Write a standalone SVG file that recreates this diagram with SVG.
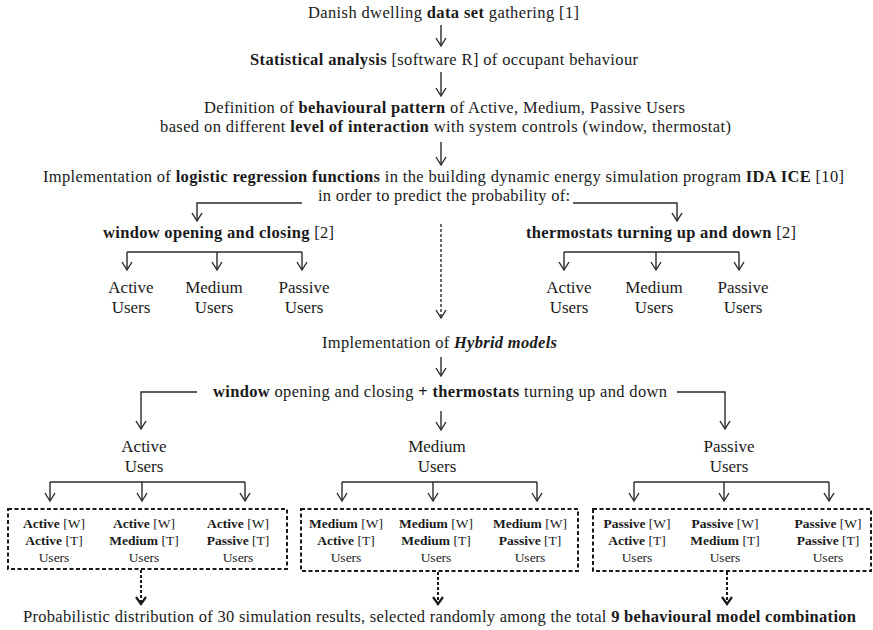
<svg xmlns="http://www.w3.org/2000/svg" width="873" height="630" viewBox="0 0 873 630" font-family="'Liberation Serif', 'Times New Roman', serif">
<defs>
<style>
text{font-family:"Liberation Serif","Times New Roman",serif;font-size:16.5px;fill:#1a1a1a}
.b{font-weight:bold}
.bi{font-weight:bold;font-style:italic}
.sm{font-size:13.5px}
.u{font-size:17px}
.c{text-anchor:middle}
.ln{fill:none;stroke:#2a2a2a;stroke-width:1.4}
.ar{fill:none;stroke:#2a2a2a;stroke-width:1.4;marker-end:url(#ah)}
.da{fill:none;stroke:#2a2a2a;stroke-width:1.4;stroke-dasharray:3 2;marker-end:url(#ah)}
.dk{fill:none;stroke:#1a1a1a;stroke-width:2;stroke-dasharray:3 2;marker-end:url(#ahb)}
.box{fill:none;stroke:#1a1a1a;stroke-width:2;stroke-dasharray:4 2.5}
</style>
<marker id="ah" markerUnits="userSpaceOnUse" viewBox="-10 -8 12 16" markerWidth="12" markerHeight="16" refX="0" refY="0" orient="auto" overflow="visible">
<path d="M-8,-5 L0,0 L-8,5" fill="none" stroke="#2a2a2a" stroke-width="1.4"/>
</marker>
<marker id="ahb" markerUnits="userSpaceOnUse" viewBox="-10 -8 12 16" markerWidth="12" markerHeight="16" refX="0" refY="0" orient="auto" overflow="visible">
<path d="M-7,-5 L0,0 L-7,5" fill="none" stroke="#1a1a1a" stroke-width="2.2"/>
</marker>
</defs>
<rect width="873" height="630" fill="#fff"/>

<g id="connectors">
<path class="ar" d="M441,25 V46"/>
<path class="ar" d="M441,72 V96"/>
<path class="ar" d="M441,142 V165"/>
<path class="ar" d="M302,203 H197 V221"/>
<path class="ar" d="M573,203 H677 V221"/>
<path class="da" d="M441,224 V318"/>
<path class="ln" d="M127,252 H302"/>
<path class="ar" d="M127,252 V270"/>
<path class="ar" d="M217,252 V270"/>
<path class="ar" d="M302,252 V270"/>
<path class="ln" d="M564,252 H739"/>
<path class="ar" d="M564,252 V270"/>
<path class="ar" d="M656,252 V270"/>
<path class="ar" d="M739,252 V270"/>
<path class="ar" d="M441,357 V376"/>
<path class="ar" d="M197,392 H141 V429"/>
<path class="ar" d="M441,411 V430"/>
<path class="ar" d="M677,392 H725 V429"/>
<path class="ln" d="M50,482 H245"/>
<path class="ar" d="M50,482 V501"/>
<path class="ar" d="M142,482 V501"/>
<path class="ar" d="M245,482 V501"/>
<path class="ln" d="M342,482 H537"/>
<path class="ar" d="M342,482 V501"/>
<path class="ar" d="M433,482 V501"/>
<path class="ar" d="M537,482 V501"/>
<path class="ln" d="M634,482 H829"/>
<path class="ar" d="M634,482 V501"/>
<path class="ar" d="M724,482 V501"/>
<path class="ar" d="M829,482 V501"/>
<path class="dk" d="M141,570 V604"/>
<path class="dk" d="M438,572 V604"/>
<path class="dk" d="M727,572 V604"/>
</g>

<g id="n-data">
<text x="308" y="18" textLength="271">Danish dwelling <tspan class="b">data set</tspan> gathering [1]</text>
</g>
<g id="n-stat">
<text x="250" y="65" textLength="388"><tspan class="b">Statistical analysis</tspan> [software R] of occupant behaviour</text>
</g>
<g id="n-def">
<text x="204" y="113" textLength="481">Definition of <tspan class="b">behavioural pattern</tspan> of Active, Medium, Passive Users</text>
<text x="160" y="132" textLength="571">based on different <tspan class="b">level of interaction</tspan> with system controls (window, thermostat)</text>
</g>
<g id="n-impl">
<text x="43" y="182" textLength="801">Implementation of <tspan class="b">logistic regression functions</tspan> in the  building dynamic energy simulation program <tspan class="b">IDA ICE</tspan> [10]</text>
<text x="318" y="201" textLength="252">in order to predict the probability of:</text>
</g>
<g id="n-window">
<text x="103" y="238" textLength="231"><tspan class="b">window opening and closing</tspan> [2]</text>
</g>
<g id="n-thermo">
<text x="526" y="238" textLength="270"><tspan class="b">thermostats turning up and down</tspan> [2]</text>
</g>
<g id="n-w-active"><text class="u c" x="131" y="293">Active</text><text class="u c" x="131" y="313">Users</text></g>
<g id="n-w-medium"><text class="u c" x="214" y="293">Medium</text><text class="u c" x="214" y="313">Users</text></g>
<g id="n-w-passive"><text class="u c" x="304" y="293">Passive</text><text class="u c" x="304" y="313">Users</text></g>
<g id="n-t-active"><text class="u c" x="569" y="293">Active</text><text class="u c" x="569" y="313">Users</text></g>
<g id="n-t-medium"><text class="u c" x="654" y="293">Medium</text><text class="u c" x="654" y="313">Users</text></g>
<g id="n-t-passive"><text class="u c" x="743" y="293">Passive</text><text class="u c" x="743" y="313">Users</text></g>

<g id="n-hybrid">
<text x="322" y="348" textLength="235">Implementation of <tspan class="bi">Hybrid models</tspan></text>
</g>
<g id="n-combo">
<text x="213" y="397" textLength="454"><tspan class="b">window</tspan> opening and closing <tspan class="b">+ thermostats</tspan> turning up and down</text>
</g>
<g id="n-h-active"><text class="u c" x="144" y="452">Active</text><text class="u c" x="144" y="472">Users</text></g>
<g id="n-h-medium"><text class="u c" x="437" y="452">Medium</text><text class="u c" x="437" y="472">Users</text></g>
<g id="n-h-passive"><text class="u c" x="729" y="452">Passive</text><text class="u c" x="729" y="472">Users</text></g>

<g id="n-box-active">
<rect class="box" x="8" y="509" width="279" height="60"/>
<text class="sm c" x="54" y="528"><tspan class="b">Active</tspan> [W]</text>
<text class="sm c" x="54" y="545"><tspan class="b">Active</tspan> [T]</text>
<text class="sm c" x="54" y="562">Users</text>
<text class="sm c" x="144" y="528"><tspan class="b">Active</tspan> [W]</text>
<text class="sm c" x="144" y="545"><tspan class="b">Medium</tspan> [T]</text>
<text class="sm c" x="144" y="562">Users</text>
<text class="sm c" x="238" y="528"><tspan class="b">Active</tspan> [W]</text>
<text class="sm c" x="238" y="545"><tspan class="b">Passive</tspan> [T]</text>
<text class="sm c" x="238" y="562">Users</text>
</g>
<g id="n-box-medium">
<rect class="box" x="301" y="509" width="277" height="62"/>
<text class="sm c" x="346" y="528"><tspan class="b">Medium</tspan> [W]</text>
<text class="sm c" x="346" y="545"><tspan class="b">Active</tspan> [T]</text>
<text class="sm c" x="346" y="562">Users</text>
<text class="sm c" x="436" y="528"><tspan class="b">Medium</tspan> [W]</text>
<text class="sm c" x="436" y="545"><tspan class="b">Medium</tspan> [T]</text>
<text class="sm c" x="436" y="562">Users</text>
<text class="sm c" x="530" y="528"><tspan class="b">Medium</tspan> [W]</text>
<text class="sm c" x="530" y="545"><tspan class="b">Passive</tspan> [T]</text>
<text class="sm c" x="530" y="562">Users</text>
</g>
<g id="n-box-passive">
<rect class="box" x="593" y="509" width="278" height="62"/>
<text class="sm c" x="637" y="528"><tspan class="b">Passive</tspan> [W]</text>
<text class="sm c" x="637" y="545"><tspan class="b">Active</tspan> [T]</text>
<text class="sm c" x="637" y="562">Users</text>
<text class="sm c" x="725" y="528"><tspan class="b">Passive</tspan> [W]</text>
<text class="sm c" x="725" y="545"><tspan class="b">Medium</tspan> [T]</text>
<text class="sm c" x="725" y="562">Users</text>
<text class="sm c" x="828" y="528"><tspan class="b">Passive</tspan> [W]</text>
<text class="sm c" x="828" y="545"><tspan class="b">Passive</tspan> [T]</text>
<text class="sm c" x="828" y="562">Users</text>
</g>

<g id="n-final">
<text x="23" y="622" textLength="833">Probabilistic distribution of 30 simulation results, selected randomly among the total <tspan class="b">9 behavioural model combination</tspan></text>
</g>
</svg>
